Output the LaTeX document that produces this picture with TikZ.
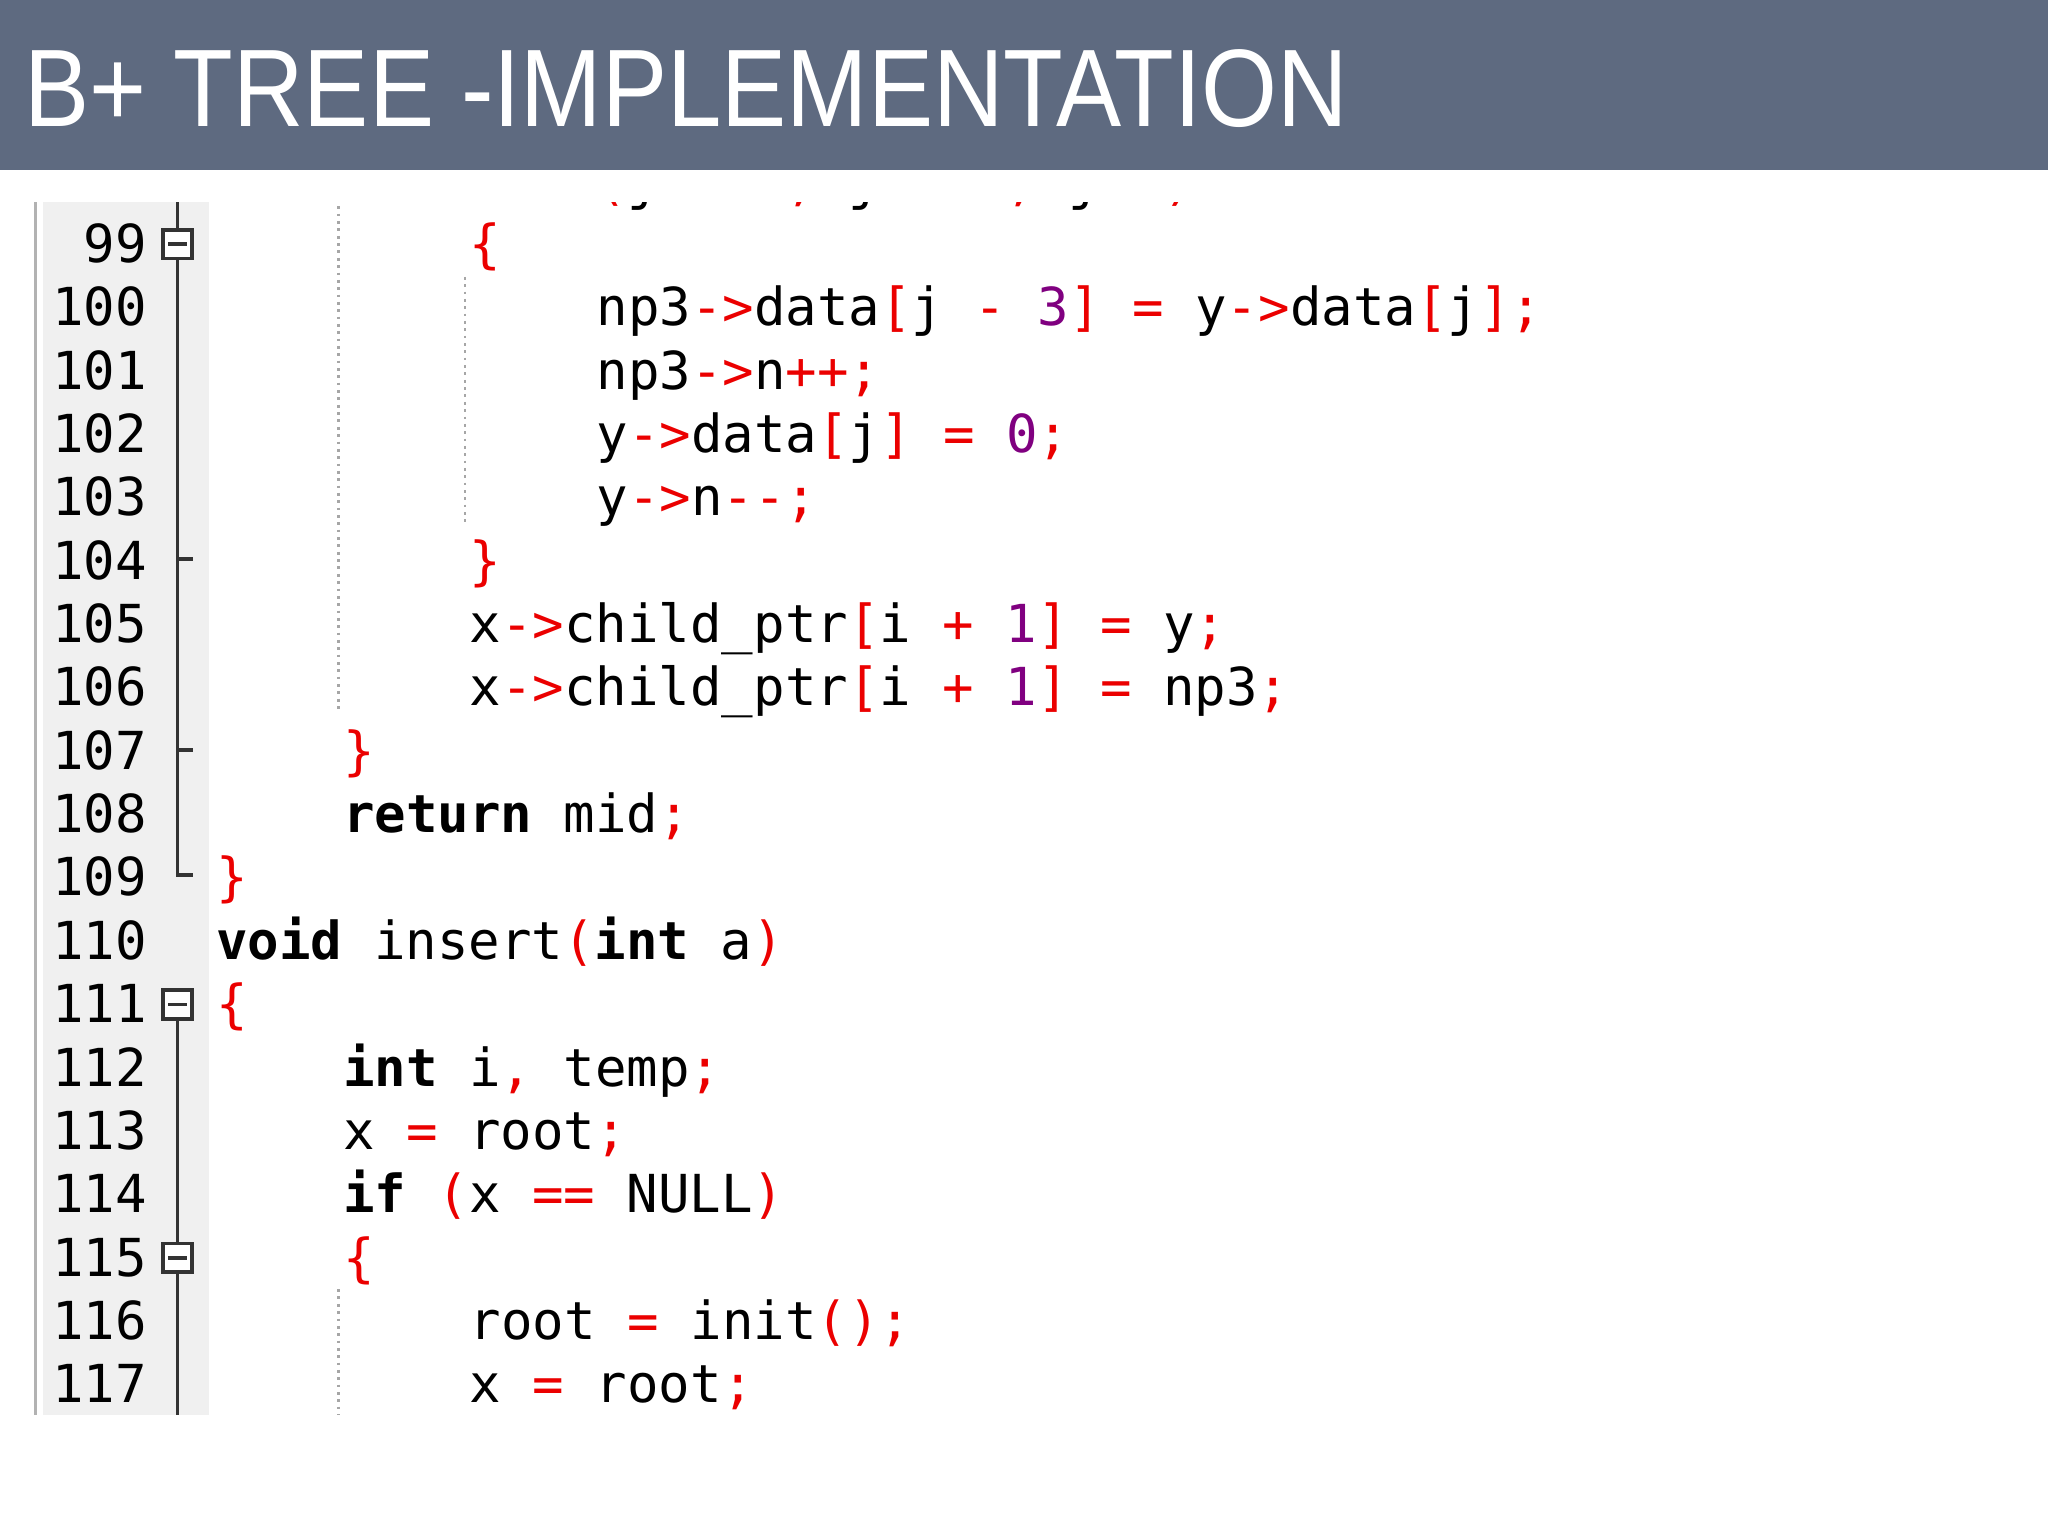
\documentclass[tikz,border=0pt]{standalone}
\usepackage{fontspec}
\setmainfont{Liberation Sans}
\newfontfamily\codefont{DejaVu Sans Mono}
\definecolor{hdr}{RGB}{94,106,128}
\definecolor{opc}{RGB}{235,0,0}
\definecolor{numc}{RGB}{128,0,128}
\definecolor{gut}{RGB}{240,240,240}
\newcommand\opr[1]{\textcolor{opc}{#1}}
\newcommand\nmr[1]{\textcolor{numc}{#1}}
\newcommand\kw[1]{\textbf{#1}}
\begin{document}
\begin{tikzpicture}[x=0.01cm,y=-0.01cm,
  code/.style={anchor=base west,inner sep=0,font=\codefont\fontsize{11.4}{12}\selectfont},
  lnum/.style={anchor=base east,inner sep=0,font=\codefont\fontsize{11.4}{12}\selectfont},
  guide/.style={gray!70,densely dotted,line width=0.6pt},
  fold/.style={draw=black!80,line width=0.8pt,fill=white,minimum size=0.22cm,inner sep=0}]
\useasboundingbox (0,0) rectangle (1568,1176);
\fill[white] (0,0) rectangle (1568,1176);
\fill[hdr] (0,0) rectangle (1568,130);
\node[anchor=base west,inner sep=0,text=white,font=\fontsize{24}{26}\selectfont] (title) at (18,97) {\scalebox{0.886}[1]{B+ TREE -IMPLEMENTATION}};
% gutter
\fill[gut] (33,155) rectangle (160,1083);
\draw[gray!60,line width=0.6pt] (27,155) -- (27,1083);
% fold line
\draw[black!80,line width=0.8pt] (136,155) -- (136,670) -- (148,670);
\draw[black!80,line width=0.8pt] (136,758) -- (136,1083);
\draw[black!80,line width=0.8pt] (136,428) -- (148,428);
\draw[black!80,line width=0.8pt] (136,574) -- (148,574);
\foreach \r/\nm in {99/fa,111/fb,115/fc}{
  \node[fold] (\nm) at (136,{187+(\r-99)*48.5}) {};
  \draw[black!80,line width=0.8pt] ([xshift=-0.07cm]\nm.center) -- ([xshift=0.07cm]\nm.center);
}
% indent guides
\draw[guide] (259,158) -- (259,545);
\draw[guide] (356,212) -- (356,400);
\draw[guide] (259,987) -- (259,1083);
% line numbers
\foreach \r in {99,...,117}{
  \node[lnum] (n\r) at (113,{201+(\r-99)*48.5}) {\r};
}
% code
\def\cx#1{165+24.25*#1}
\begin{scope}
\clip (160,155) rectangle (1568,1100);
\node[code] (l98) at ({\cx{8}},152.5) {\kw{for} \opr{(}j \opr{=} \nmr{3}\opr{;} j \opr{<} \nmr{6}\opr{;} j\opr{+{}+)}};
\end{scope}
\node[code] (l99) at ({\cx{8}},201) {\opr{\{}};
\node[code] (l100) at ({\cx{12}},249.5) {np3\opr{-{}>}data\opr{[}j \opr{-} \nmr{3}\opr{]} \opr{=} y\opr{-{}>}data\opr{[}j\opr{];}};
\node[code] (l101) at ({\cx{12}},298) {np3\opr{-{}>}n\opr{+{}+;}};
\node[code] (l102) at ({\cx{12}},346.5) {y\opr{-{}>}data\opr{[}j\opr{]} \opr{=} \nmr{0}\opr{;}};
\node[code] (l103) at ({\cx{12}},395) {y\opr{-{}>}n\opr{-{}-;}};
\node[code] (l104) at ({\cx{8}},443.5) {\opr{\}}};
\node[code] (l105) at ({\cx{8}},492) {x\opr{-{}>}child\_ptr\opr{[}i \opr{+} \nmr{1}\opr{]} \opr{=} y\opr{;}};
\node[code] (l106) at ({\cx{8}},540.5) {x\opr{-{}>}child\_ptr\opr{[}i \opr{+} \nmr{1}\opr{]} \opr{=} np3\opr{;}};
\node[code] (l107) at ({\cx{4}},589) {\opr{\}}};
\node[code] (l108) at ({\cx{4}},637.5) {\kw{return} mid\opr{;}};
\node[code] (l109) at ({\cx{0}},686) {\opr{\}}};
\node[code] (l110) at ({\cx{0}},734.5) {\kw{void} insert\opr{(}\kw{int} a\opr{)}};
\node[code] (l111) at ({\cx{0}},783) {\opr{\{}};
\node[code] (l112) at ({\cx{4}},831.5) {\kw{int} i\opr{,} temp\opr{;}};
\node[code] (l113) at ({\cx{4}},880) {x \opr{=} root\opr{;}};
\node[code] (l114) at ({\cx{4}},928.5) {\kw{if} \opr{(}x \opr{=={}} NULL\opr{)}};
\node[code] (l115) at ({\cx{4}},977) {\opr{\{}};
\node[code] (l116) at ({\cx{8}},1025.5) {root \opr{=} init\opr{();}};
\node[code] (l117) at ({\cx{8}},1074) {x \opr{=} root\opr{;}};
\end{tikzpicture}
\end{document}
